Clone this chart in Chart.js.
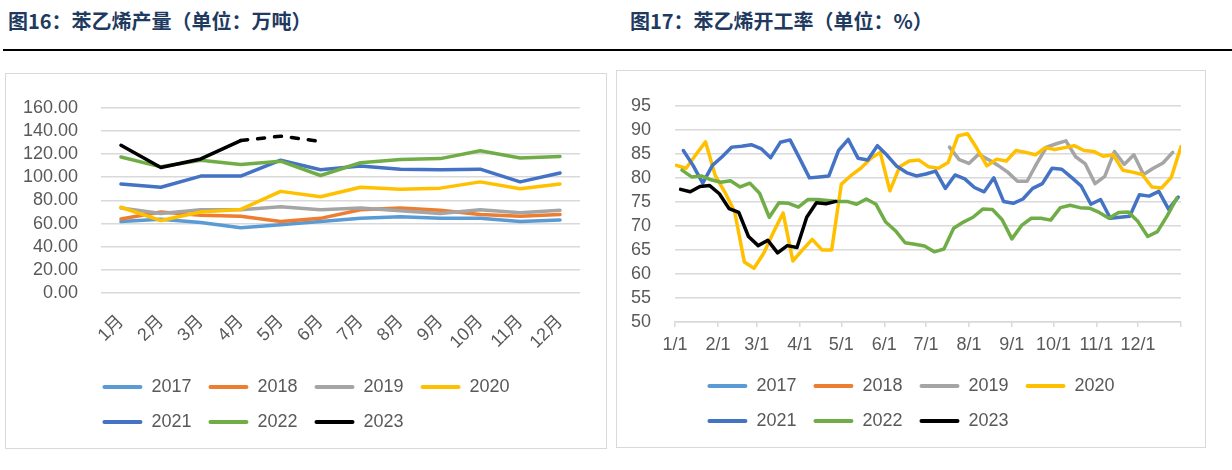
<!DOCTYPE html>
<html>
<head>
<meta charset="utf-8">
<script src="https://cdn.jsdelivr.net/npm/chart.js@4.4.0/dist/chart.umd.min.js"></script>
<style>
  body { margin: 0; background: #fff; width: 1232px; height: 470px; position: relative; overflow: hidden; font-family: 'Noto Sans CJK SC', sans-serif; }
  .title { position: absolute; top: 6px; font-size: 20px; font-weight: bold; color: #1f3a5f; white-space: nowrap; }
  .rule { position: absolute; left: 3px; right: 0; top: 49px; height: 2px; background: #000; }
  .box { position: absolute; border: 1px solid #d9d9d9; box-sizing: border-box; }
  .box canvas { display: block; }
</style>
</head>
<body>
<div class="title" style="left:8px">图16：苯乙烯产量（单位：万吨）</div>
<div class="title" style="left:630px">图17：苯乙烯开工率（单位：%）</div>
<div class="rule"></div>
<div class="box" style="left:5px;top:73px;width:602px;height:376px"><canvas id="output" width="600" height="374"></canvas></div>
<div class="box" style="left:616px;top:70px;width:590px;height:378px"><canvas id="rate" width="588" height="376"></canvas></div>
<script>
const years = ['2017', '2018', '2019', '2020', '2021', '2022', '2023'];
const colors = ['#5b9bd5', '#ed7d31', '#a5a5a5', '#ffc000', '#4472c4', '#70ad47', '#000000'];

// 图16：月度产量（万吨）
const months = ['1月', '2月', '3月', '4月', '5月', '6月', '7月', '8月', '9月', '10月', '11月', '12月'];
const out2017 = [61.7, 63.7, 60.9, 56.3, 59.0, 61.8, 64.5, 65.9, 64.5, 64.5, 61.7, 63.1];
const out2018 = [63.9, 70.0, 67.2, 66.4, 61.7, 64.5, 71.9, 73.5, 71.4, 67.8, 66.4, 67.8];
const out2019 = [73.5, 68.6, 71.9, 71.9, 74.6, 71.9, 73.5, 71.0, 68.6, 71.9, 69.4, 71.4];
const out2020 = [74.1, 62.6, 70.0, 72.2, 87.8, 83.2, 91.4, 89.7, 90.6, 96.0, 90.0, 94.1];
const out2021 = [94.1, 91.4, 101.0, 101.0, 114.7, 106.5, 109.8, 107.0, 106.5, 107.0, 96.0, 103.7];
const out2022 = [117.5, 109.0, 114.7, 111.1, 113.9, 101.5, 112.5, 115.3, 116.1, 122.9, 116.6, 118.0];
const out2023 = [127.6, 108.4, 115.8, 131.7, 135.5, 131.0];
const forecastFrom = 3; // 4月以后为虚线

// 图17：周度开工率（%）
const rateTickDays = [0, 31, 59, 90, 120, 151, 181, 212, 243, 273, 304, 334, 365];
const rateTickLabels = ['1/1', '2/1', '3/1', '4/1', '5/1', '6/1', '7/1', '8/1', '9/1', '10/1', '11/1', '12/1', ''];
const rateStartDay = [0, 0, 198, 1, 6, 5, 4]; // 每年第一个数据日（一年中的第几天）
const rate2017 = [];
const rate2018 = [];
const rate2019 = [86.4, 83.8, 83.0, 84.9, 83.8, 82.6, 81.2, 79.3, 79.3, 83.0, 86.4, 87.1,
  87.7, 84.4, 82.9, 78.8, 80.3, 85.5, 82.8, 84.8, 80.7, 82.0, 83.1, 85.3];
const rate2020 = [82.6, 82.0, 84.8, 87.5, 80.5, 77.0, 73.0, 62.5, 61.2, 64.3, 68.7, 72.7, 62.7,
  65.0, 67.2, 65.0, 65.0, 78.7, 80.5, 82.0, 84.0, 85.3, 77.3, 82.3, 83.5, 83.7, 82.3,
  82.0, 83.2, 88.7, 89.2, 86.0, 82.5, 83.9, 83.5, 85.7, 85.3, 84.8, 86.3, 85.9, 86.3,
  86.7, 85.7, 85.5, 84.5, 84.8, 81.6, 81.2, 80.7, 78.1, 77.9, 80.1, 86.5];
const rate2021 = [85.7, 82.6, 78.9, 82.6, 84.4, 86.4, 86.6, 86.9, 86.1, 84.2, 87.4, 87.9, 84.0,
  80.0, 80.2, 80.4, 85.7, 88.0, 84.1, 83.7, 86.7, 84.7, 82.4, 81.1, 80.4, 80.8, 81.4,
  77.8, 80.6, 79.8, 78.0, 77.1, 80.0, 75.1, 74.7, 75.6, 77.8, 78.8, 82.0, 81.8, 80.1,
  78.3, 74.5, 75.5, 71.6, 71.8, 72.0, 76.5, 76.2, 77.2, 73.5, 76.0];
const rate2022 = [81.6, 80.2, 80.4, 79.6, 79.1, 79.4, 78.1, 78.9, 76.8, 71.8, 74.8, 74.7, 73.9,
  75.5, 75.5, 75.3, 75.1, 75.1, 74.5, 75.6, 74.5, 70.8, 69.0, 66.5, 66.2, 65.8, 64.6,
  65.2, 69.5, 70.8, 71.8, 73.5, 73.4, 71.3, 67.3, 70.1, 71.6, 71.6, 71.2, 73.8, 74.3,
  73.8, 73.7, 72.8, 71.6, 72.8, 72.9, 70.9, 67.8, 68.8, 72.1, 75.8];
const rate2023 = [77.6, 77.1, 78.2, 78.4, 76.7, 73.6, 72.8, 67.8, 65.9, 67.0, 64.4, 65.9,
  65.5, 71.8, 74.8, 74.6, 75.1];

const outputSeries = [out2017, out2018, out2019, out2020, out2021, out2022, out2023];
const rateSeries = [rate2017, rate2018, rate2019, rate2020, rate2021, rate2022, rate2023];

Chart.defaults.font.family = "'Liberation Sans', 'Noto Sans CJK SC', sans-serif";
Chart.defaults.font.size = 18;
Chart.defaults.color = '#595959';
const gridColor = '#d9d9d9';
const legendRowWidth = 500;

function legendOptions() {
  return {
    position: 'bottom',
    labels: {
      boxWidth: 40,
      boxHeight: 4,
      padding: 17,
      useBorderRadius: true,
      borderRadius: 2,
      color: '#595959',
      font: { size: 18 },
      sort: (a, b) => a.datasetIndex - b.datasetIndex,
      generateLabels(chart) {
        return Chart.defaults.plugins.legend.labels.generateLabels(chart).map(item =>
          Object.assign(item, { lineWidth: 0, fillStyle: item.strokeStyle, lineDash: [] }));
      }
    }
  };
}

// Excel 式图例：每行 4 项，各行左对齐，整体在框内居中
function gridLegend(chart, shift) {
  const legend = chart.legend;
  const fit = legend.fit;
  legend.fit = function () {
    const full = this.maxWidth;
    this.maxWidth = legendRowWidth;
    fit.call(this);
    this.maxWidth = full;
    this.width = full;
    const widest = Math.max(...this.lineWidths);
    this.lineWidths = this.lineWidths.map(() => widest - shift);
  };
  chart.update();
}

function lineStyle(k) {
  return {
    label: years[k],
    borderColor: colors[k],
    backgroundColor: colors[k],
    borderWidth: 3.5,
    pointRadius: 0,
    tension: 0,
    borderJoinStyle: 'round',
    borderCapStyle: 'round',
    order: 6 - k
  };
}

const outputChart = new Chart(document.getElementById('output'), {
  type: 'line',
  data: {
    labels: months,
    datasets: outputSeries.map((vals, k) => Object.assign(lineStyle(k), {
      data: vals,
      segment: k === 6 ? { borderDash: c => c.p0DataIndex >= forecastFrom ? [7, 10] : undefined } : undefined
    }))
  },
  options: {
    responsive: false,
    animation: false,
    layout: { padding: { left: 0, right: 26, top: 25, bottom: 7 } },
    plugins: { legend: legendOptions(), tooltip: { enabled: false } },
    scales: {
      x: {
        offset: true,
        grid: { display: false },
        border: { display: false },
        ticks: { minRotation: 45, maxRotation: 45, padding: 10, font: { size: 18 } },
        afterFit: s => { s.height = 68; }
      },
      y: {
        min: 0,
        max: 160,
        grid: { color: gridColor, lineWidth: 1.5, drawTicks: false },
        border: { display: false },
        ticks: { stepSize: 20, autoSkip: false, padding: 23, callback: v => v.toFixed(2) },
        afterFit: s => { s.width = 95; }
      }
    }
  }
});

const rateChart = new Chart(document.getElementById('rate'), {
  type: 'line',
  data: {
    datasets: rateSeries.map((vals, k) => Object.assign(lineStyle(k), {
      data: vals.map((v, i) => ({ x: rateStartDay[k] + 7 * i, y: v }))
    }))
  },
  options: {
    responsive: false,
    animation: false,
    layout: { padding: { left: 0, right: 24, top: 24, bottom: 7 } },
    plugins: { legend: legendOptions(), tooltip: { enabled: false } },
    scales: {
      x: {
        type: 'linear',
        min: 0,
        max: 365,
        afterBuildTicks: s => { s.ticks = rateTickDays.map(d => ({ value: d })); },
        grid: { drawOnChartArea: false, drawTicks: true, tickLength: 5, color: gridColor, lineWidth: 1.5 },
        border: { display: true, color: gridColor, width: 1.5 },
        ticks: { autoSkip: false, maxRotation: 0, padding: 7, callback: (v, i) => rateTickLabels[i] },
        afterFit: s => { s.height = 38; }
      },
      y: {
        min: 50,
        max: 95,
        grid: { color: gridColor, lineWidth: 1.5, drawTicks: false },
        border: { display: false },
        ticks: { stepSize: 5, autoSkip: false, padding: 24 },
        afterFit: s => { s.width = 58; }
      }
    }
  }
});

gridLegend(outputChart, 26);
gridLegend(rateChart, 24);
</script>
</body>
</html>
